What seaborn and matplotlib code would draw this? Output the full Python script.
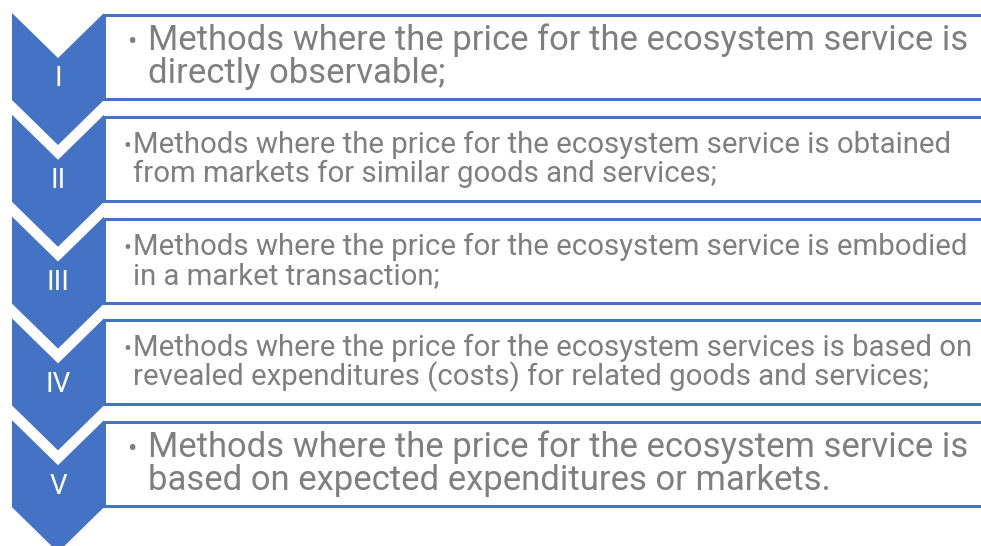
import matplotlib
matplotlib.use("Agg")
import matplotlib.pyplot as plt
from matplotlib.patches import Polygon, Rectangle
import seaborn as sns

# ---- content ----
numerals = ["I", "II", "III", "IV", "V"]
line1 = [
    "Methods where the price for the ecosystem service is",
    "Methods where the price for the ecosystem service is obtained",
    "Methods where the price for the ecosystem service is embodied",
    "Methods where the price for the ecosystem services is based on",
    "Methods where the price for the ecosystem service is",
]
line2 = [
    "directly observable;",
    "from markets for similar goods and services;",
    "in a market transaction;",
    "revealed expenditures (costs) for related goods and services;",
    "based on expected expenditures or markets.",
]
large_text = [True, False, False, False, True]

sns.set_theme(style="white")
plt.rcParams["font.family"] = ["Roboto", "DejaVu Sans"]

BLUE = "#4472C4"
GREY = "#7F7F7F"

W, H = 981, 546
fig = plt.figure(figsize=(W / 100, H / 100), dpi=100)
ax = fig.add_axes([0, 0, 1, 1])
ax.set_xlim(0, W)
ax.set_ylim(H, 0)
ax.axis("off")

step = 101.8
px = 72 / 100  # points per pixel

# calibrate font sizes against target line widths
fig.canvas.draw()
renderer = fig.canvas.get_renderer()
def width_at(s, size):
    t = ax.text(0, 0, s, fontsize=size)
    w = t.get_window_extent(renderer).width
    t.remove()
    return w
big_fs = 20 * 818 / width_at(line1[0], 20)
small_fs = 20 * 813 / width_at(line1[1], 20)

for i in range(5):
    top = 15 + i * step
    # box
    ax.add_patch(Rectangle((104, top), 884, 84, facecolor="white",
                           edgecolor=BLUE, linewidth=3 * px, zorder=1))
    # chevron
    y0 = 13 + i * step
    pts = [(12, y0), (58, y0 + 45), (104, y0), (104, y0 + 87),
           (58, y0 + 132), (12, y0 + 87)]
    ax.add_patch(Polygon(pts, closed=True, facecolor=BLUE,
                         edgecolor="none", zorder=2))
    ax.text(58, 79 + i * step, numerals[i], color="white", fontsize=20,
            ha="center", va="center", zorder=3)
    if large_text[i]:
        fs, bx, tx = big_fs, 127, 148
        b1, b2 = top + 35, top + 68
    else:
        fs, bx, tx = small_fs, 123, 133
        b1, b2 = top + 36, top + 65
    ax.text(bx, b1, "•", color=GREY, fontsize=fs * 0.8, ha="left",
            va="baseline", zorder=3)
    ax.text(tx, b1, line1[i], color=GREY, fontsize=fs, ha="left",
            va="baseline", zorder=3)
    ax.text(tx, b2, line2[i], color=GREY, fontsize=fs, ha="left",
            va="baseline", zorder=3)

fig.savefig("out.png", dpi=100, facecolor="white")
